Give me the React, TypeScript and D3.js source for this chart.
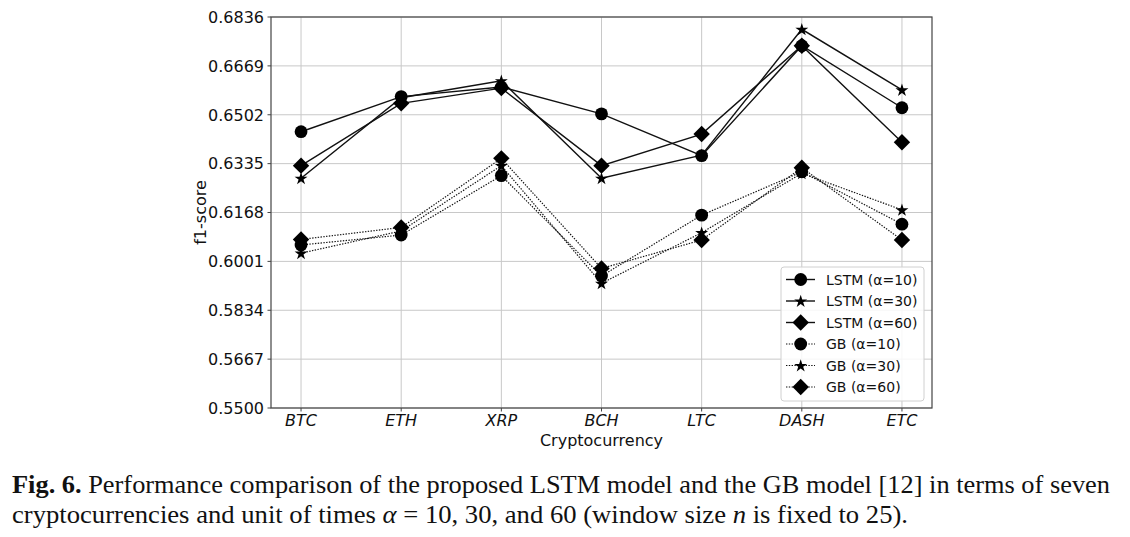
import React from "react";
import * as d3 from "d3";

const categories = ["BTC", "ETH", "XRP", "BCH", "LTC", "DASH", "ETC"];
const yTicks = [0.55, 0.5667, 0.5834, 0.6001, 0.6168, 0.6335, 0.6502, 0.6669, 0.6836];

const lstm10 = [0.6444, 0.6564, 0.6597, 0.6505, 0.6362, 0.6738, 0.6526];
const lstm30 = [0.6285, 0.656, 0.6618, 0.6285, 0.6364, 0.6794, 0.6587];
const lstm60 = [0.6328, 0.6541, 0.6593, 0.6328, 0.6436, 0.6738, 0.6408];
const gb10 = [0.6057, 0.6091, 0.6294, 0.5951, 0.6159, 0.6307, 0.6128];
const gb30 = [0.6029, 0.6105, 0.6328, 0.5926, 0.6099, 0.6302, 0.6177];
const gb60 = [0.6076, 0.6117, 0.6353, 0.5977, 0.6074, 0.6321, 0.6074];

const seriesNames = ["LSTM (α=10)", "LSTM (α=30)", "LSTM (α=60)", "GB (α=10)", "GB (α=30)", "GB (α=60)"];
const seriesValues = [lstm10, lstm30, lstm60, gb10, gb30, gb60];
const seriesMarkers = ["circle", "star", "diamond", "circle", "star", "diamond"];
const seriesDotted = [false, false, false, true, true, true];

const W = 1130;
const H = 537;
const left = 271;
const right = 932;
const top = 17;
const bottom = 408;
const FONT = "'DejaVu Sans', sans-serif";

function Marker({ type, x, y }: { type: string; x: number; y: number }) {
  if (type === "circle") return <circle cx={x} cy={y} r={6.4} fill="#000" />;
  if (type === "diamond") {
    const r = 8.2;
    return <path d={`M${x},${y - r}L${x + r},${y}L${x},${y + r}L${x - r},${y}Z`} fill="#000" />;
  }
  const p = d3.symbol().type(d3.symbolStar).size(52)();
  return <path d={p as string} transform={`translate(${x},${y + 0.5})`} fill="#000" />;
}

export default function App() {
  const x = d3.scalePoint<string>().domain(categories).range([left, right]).padding(0.3);
  const y = d3.scaleLinear().domain([0.55, 0.6836]).range([bottom, top]);
  const line = d3
    .line<number>()
    .x((_, i) => x(categories[i]) as number)
    .y((d) => y(d));

  const legX = 781;
  const legY = 267;
  const legW = 143;
  const legH = 134;
  const rowH = 21.5;

  return (
    <svg width={W} height={H} style={{ position: "absolute", left: 0, top: 0, background: "#fff" }}>
      <rect x={0} y={0} width={W} height={H} fill="#fff" />
      {/* grid */}
      {yTicks.map((t) => (
        <line key={"gy" + t} x1={left} x2={right} y1={y(t)} y2={y(t)} stroke="#c8c8c8" strokeWidth={1} />
      ))}
      {categories.map((c) => (
        <line key={"gx" + c} x1={x(c)} x2={x(c)} y1={top} y2={bottom} stroke="#c8c8c8" strokeWidth={1} />
      ))}
      {/* series lines */}
      {seriesValues.map((vals, i) => (
        <path
          key={"l" + i}
          d={line(vals) as string}
          fill="none"
          stroke="#111"
          strokeWidth={seriesDotted[i] ? 1.2 : 1.4}
          strokeDasharray={seriesDotted[i] ? "1.4,1.4" : undefined}
        />
      ))}
      {/* markers */}
      {seriesValues.map((vals, i) =>
        vals.map((v, j) => <Marker key={`m${i}-${j}`} type={seriesMarkers[i]} x={x(categories[j]) as number} y={y(v)} />)
      )}
      {/* spines */}
      <rect x={left} y={top} width={right - left} height={bottom - top} fill="none" stroke="#444" strokeWidth={1.2} />
      {/* y ticks */}
      {yTicks.map((t) => (
        <g key={"yt" + t}>
          <line x1={left - 3.5} x2={left} y1={y(t)} y2={y(t)} stroke="#444" strokeWidth={1} />
          <text x={left - 7} y={y(t)} dy="0.36em" textAnchor="end" fontFamily={FONT} fontSize={16} fill="#111">
            {t.toFixed(4)}
          </text>
        </g>
      ))}
      {/* x ticks */}
      {categories.map((c) => (
        <g key={"xt" + c}>
          <line x1={x(c)} x2={x(c)} y1={bottom} y2={bottom + 3.5} stroke="#444" strokeWidth={1} />
          <text x={x(c)} y={426} textAnchor="middle" fontFamily={FONT} fontSize={16} fontStyle="italic" fill="#111">
            {c}
          </text>
        </g>
      ))}
      <text x={(left + right) / 2} y={446} textAnchor="middle" fontFamily={FONT} fontSize={16} fill="#111">
        Cryptocurrency
      </text>
      <text
        transform={`translate(206,${(top + bottom) / 2}) rotate(-90)`}
        textAnchor="middle"
        fontFamily={FONT}
        fontSize={16}
        fill="#111"
      >
        f1-score
      </text>
      {/* legend */}
      <rect x={legX} y={legY} width={legW} height={legH} rx={3} fill="#fff" fillOpacity={0.85} stroke="#d0d0d0" strokeWidth={1} />
      {seriesNames.map((n, i) => {
        const cy = legY + 12.5 + i * rowH;
        return (
          <g key={"lg" + i}>
            <line
              x1={786}
              x2={815}
              y1={cy}
              y2={cy}
              stroke="#111"
              strokeWidth={seriesDotted[i] ? 1.2 : 1.4}
              strokeDasharray={seriesDotted[i] ? "1.4,1.4" : undefined}
            />
            <Marker type={seriesMarkers[i]} x={800.7} y={cy} />
            <text x={826} y={cy} dy="0.36em" fontFamily={FONT} fontSize={14} fill="#111">
              {n}
            </text>
          </g>
        );
      })}
      {/* caption */}
      <text x={12} y={493} fontFamily="'Liberation Serif', serif" fontSize={25} fill="#111" textLength={1098} lengthAdjust="spacingAndGlyphs">
        <tspan fontWeight="bold">Fig. 6.</tspan> Performance comparison of the proposed LSTM model and the GB model [12] in terms of seven
      </text>
      <text x={12} y={523} fontFamily="'Liberation Serif', serif" fontSize={25} fill="#111" textLength={896} lengthAdjust="spacingAndGlyphs">
        cryptocurrencies and unit of times <tspan fontStyle="italic">α</tspan> = 10, 30, and 60 (window size <tspan fontStyle="italic">n</tspan> is fixed to 25).
      </text>
    </svg>
  );
}
